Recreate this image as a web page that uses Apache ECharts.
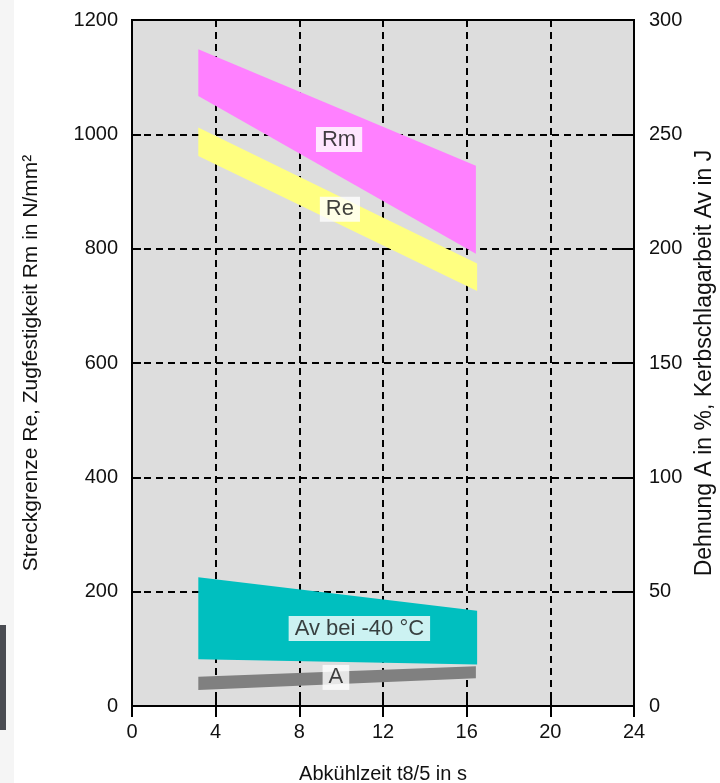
<!DOCTYPE html>
<html>
<head>
<meta charset="utf-8">
<script src="https://cdn.jsdelivr.net/npm/echarts@6/dist/echarts.min.js"></script>
<style>
html,body{margin:0;padding:0;background:#fff;}
#chart{width:720px;height:783px;}
</style>
</head>
<body>
<div id="chart"></div>
<script>
// x axis (Abkühlzeit t8/5 in s)
const xTicks = [0, 4, 8, 12, 16, 20, 24];
const leftTicks = [0, 200, 400, 600, 800, 1000, 1200];
const rightTicks = [0, 50, 100, 150, 200, 250, 300];

// bands: [t, low, high] at start and end
const rmBand = [[3.17, 1067, 1149], [16.44, 791, 945]];   // left axis
const reBand = [[3.17, 962, 1012], [16.5, 726, 774]];     // left axis
const avBand = [[3.17, 20.4, 56.3], [16.5, 18.2, 41.7]];  // right axis
const aBand  = [[3.17, 7.0, 12.8], [16.44, 12.1, 17.4]];  // right axis

// label anchors [t, value]
const rmLabel = [9.9, 991];
const reLabel = [9.94, 869];
const avLabel = [10.87, 33.9];
const aLabel  = [9.75, 12.5];

const FONT = 'Liberation Sans, Arial, sans-serif';

function bandItem(b) { return [b[0][0], b[0][1], b[0][2], b[1][0], b[1][1], b[1][2]]; }

function bandSeries(name, band, color, yIdx) {
  return {
    type: 'custom', name: name, yAxisIndex: yIdx, xAxisIndex: 0,
    data: [bandItem(band)],
    encode: { x: [0, 3], y: [1, 2, 4, 5] },
    silent: true, z: 3,
    renderItem: function (params, api) {
      const p1 = api.coord([api.value(0), api.value(2)]);
      const p2 = api.coord([api.value(3), api.value(5)]);
      const p3 = api.coord([api.value(3), api.value(4)]);
      const p4 = api.coord([api.value(0), api.value(1)]);
      return { type: 'polygon', shape: { points: [p1, p2, p3, p4] }, style: { fill: color, stroke: null } };
    }
  };
}

function labelSeries(text, pt, yIdx) {
  return {
    type: 'scatter', yAxisIndex: yIdx, xAxisIndex: 0, symbolSize: 1, z: 5, silent: true,
    itemStyle: { color: 'rgba(0,0,0,0)' },
    data: [pt],
    label: {
      show: true, position: 'inside', formatter: text,
      fontFamily: FONT, fontSize: 22, color: '#111',
      backgroundColor: '#fff', padding: [2, 6, 1, 6]
    }
  };
}

const plain = function (v) { return String(v); };

const chart = echarts.init(document.getElementById('chart'), null, { renderer: 'canvas' });
chart.setOption({
  animation: false,
  backgroundColor: '#fff',
  graphic: [
    { type: 'rect', left: 0, top: 0, shape: { width: 14, height: 783 }, style: { fill: '#f5f5f5' }, z: -10 },
    { type: 'rect', left: 0, top: 625, shape: { width: 6, height: 105 }, style: { fill: '#4a4c52' }, z: -9 }
  ],
  grid: {
    left: 132, right: 86, top: 20, bottom: 77, containLabel: false, outerBoundsMode: 'none',
    show: true, backgroundColor: '#dddddd', borderColor: '#000', borderWidth: 2
  },
  xAxis: [
    {
      type: 'value', min: xTicks[0], max: xTicks[xTicks.length - 1], interval: 4,
      position: 'bottom',
      name: 'Abkühlzeit t8/5 in s', nameLocation: 'middle', nameGap: 58,
      nameTextStyle: { fontFamily: FONT, fontSize: 20, color: '#111' },
      axisLine: { show: true, onZero: false, lineStyle: { color: '#000', width: 2 } },
      axisTick: { show: true, inside: false, length: 11, lineStyle: { color: '#000', width: 2 } },
      axisLabel: { margin: 16, fontFamily: FONT, fontSize: 20, color: '#111', formatter: plain },
      splitLine: { show: true, lineStyle: { color: '#000', width: 2, type: [7, 5] } }
    },
    {
      type: 'value', min: xTicks[0], max: xTicks[xTicks.length - 1], interval: 4,
      position: 'bottom',
      axisLine: { show: false, onZero: false },
      axisTick: { show: true, inside: true, length: 14, lineStyle: { color: '#000', width: 2 } },
      axisLabel: { show: false },
      splitLine: { show: false }
    }
  ],
  yAxis: [
    {
      type: 'value', min: leftTicks[0], max: leftTicks[leftTicks.length - 1], interval: 200,
      position: 'left',
      name: 'Streckgrenze Re, Zugfestigkeit Rm in N/mm²', nameLocation: 'middle', nameGap: 90, nameRotate: 90,
      nameTextStyle: { fontFamily: FONT, fontSize: 21, color: '#111' },
      axisLine: { show: true, onZero: false, lineStyle: { color: '#000', width: 2 } },
      axisTick: { show: true, inside: true, length: 9, lineStyle: { color: '#000', width: 2 } },
      axisLabel: { margin: 14, fontFamily: FONT, fontSize: 20, color: '#111', formatter: plain },
      splitLine: { show: true, lineStyle: { color: '#000', width: 2, type: [7, 5] } }
    },
    {
      type: 'value', min: rightTicks[0], max: rightTicks[rightTicks.length - 1], interval: 50,
      position: 'right',
      name: 'Dehnung A in %, Kerbschlagarbeit Av in J', nameLocation: 'middle', nameGap: 56, nameRotate: 90,
      nameTextStyle: { fontFamily: FONT, fontSize: 23, color: '#111' },
      axisLine: { show: true, onZero: false, lineStyle: { color: '#000', width: 2 } },
      axisTick: { show: true, inside: true, length: 15, lineStyle: { color: '#000', width: 2 } },
      axisLabel: { margin: 15, fontFamily: FONT, fontSize: 20, color: '#111', formatter: plain },
      splitLine: { show: false }
    }
  ],
  series: [
    bandSeries('Rm', rmBand, '#ff80ff', 0),
    bandSeries('Re', reBand, '#ffff80', 0),
    bandSeries('Av', avBand, '#00bfbf', 1),
    bandSeries('A', aBand, '#808080', 1),
    labelSeries('Rm', rmLabel, 0),
    labelSeries('Re', reLabel, 0),
    labelSeries('Av bei -40 °C', avLabel, 1),
    labelSeries('A', aLabel, 1)
  ]
});
</script>
</body>
</html>
